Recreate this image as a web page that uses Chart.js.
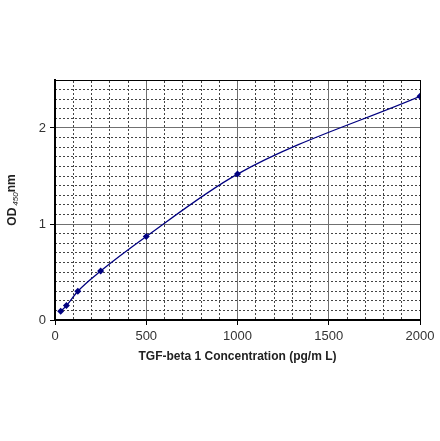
<!DOCTYPE html>
<html>
<head>
<meta charset="utf-8">
<script src="https://cdn.jsdelivr.net/npm/chart.js@4/dist/chart.umd.min.js"></script>
<style>
html,body{margin:0;padding:0;background:#fff;}
canvas{display:block;}
</style>
</head>
<body>
<canvas id="c" width="440" height="441"></canvas>
<script>
const concentrations = [31.25, 62.5, 125, 250, 500, 1000, 2000];
const odValues = [0.09, 0.15, 0.30, 0.51, 0.87, 1.52, 2.33];
const xTickLabels = [0, 500, 1000, 1500, 2000];
const yTickLabels = [0, 1, 2];
const xTitle = 'TGF-beta 1 Concentration (pg/m L)';

const FONT = '"Liberation Sans", Arial, sans-serif';

const titlePlugin = {
  id: 'titles',
  afterDraw(chart) {
    const ctx = chart.ctx;
    const a = chart.chartArea;
    ctx.save();
    ctx.fillStyle = '#222';
    ctx.font = 'bold 12px ' + FONT;
    ctx.textAlign = 'center';
    ctx.textBaseline = 'middle';
    ctx.fillText(xTitle, (a.left + a.right) / 2, 357);
    // y title
    ctx.translate(13, 200);
    ctx.rotate(-Math.PI / 2);
    ctx.textAlign = 'left';
    const p1 = 'OD', p2 = '450', p3 = 'nm';
    ctx.font = 'bold 12px ' + FONT;
    const w1 = ctx.measureText(p1).width;
    const w3 = ctx.measureText(p3).width;
    ctx.font = 'italic 8px ' + FONT;
    const w2 = ctx.measureText(p2).width;
    const total = w1 + 2 + w2 + w3;
    let x = -total / 2;
    ctx.font = 'bold 12px ' + FONT;
    ctx.fillText(p1, x, 0);
    x += w1 + 2;
    ctx.font = 'italic 8px ' + FONT;
    ctx.fillText(p2, x, 3);
    x += w2;
    ctx.font = 'bold 12px ' + FONT;
    ctx.fillText(p3, x, -1);
    ctx.restore();
  }
};

new Chart(document.getElementById('c'), {
  type: 'scatter',
  data: {
    datasets: [{
      data: concentrations.map((c, i) => ({x: c, y: odValues[i]})),
      showLine: true,
      borderColor: '#000080',
      backgroundColor: '#000080',
      borderWidth: 1.3,
      cubicInterpolationMode: 'monotone',
      pointStyle: 'rectRot',
      pointRadius: 3.5,
      pointHoverRadius: 3.5,
      pointBorderWidth: 0
    }]
  },
  options: {
    responsive: false,
    animation: false,
    devicePixelRatio: 1,
    layout: {padding: {left: 0, right: 20, top: 80, bottom: 0}},
    plugins: {legend: {display: false}, tooltip: {enabled: false}},
    scales: {
      xMinor: {
        type: 'linear', position: 'top', min: 0, max: 2000,
        ticks: {stepSize: 100, display: false},
        grid: {color: '#444', lineWidth: 1, drawTicks: false},
        border: {display: true, color: '#000', width: 1, dash: [2, 2]},
        afterFit: s => { s.height = 0; }
      },
      yMinor: {
        type: 'linear', position: 'right', min: 0, max: 2.5,
        ticks: {stepSize: 0.1, display: false},
        grid: {color: '#444', lineWidth: 1, drawTicks: false},
        border: {display: true, color: '#000', width: 1, dash: [2, 2]},
        afterFit: s => { s.width = 0; }
      },
      x: {
        type: 'linear', position: 'bottom', min: 0, max: 2000,
        afterBuildTicks: s => { s.ticks = xTickLabels.map(v => ({value: v})); },
        ticks: {color: '#333', font: {family: FONT, size: 13}, padding: 4, maxRotation: 0,
                callback: v => String(v)},
        grid: {color: '#707070', lineWidth: 1, tickLength: 5, tickColor: '#000'},
        border: {display: true, color: '#000', width: 2},
        afterFit: s => { s.height = 121; }
      },
      y: {
        type: 'linear', position: 'left', min: 0, max: 2.5,
        afterBuildTicks: s => { s.ticks = yTickLabels.map(v => ({value: v})); },
        ticks: {color: '#333', font: {family: FONT, size: 13}, padding: 4,
                callback: v => String(v)},
        grid: {color: '#707070', lineWidth: 1, tickLength: 5, tickColor: '#000'},
        border: {display: true, color: '#000', width: 2},
        afterFit: s => { s.width = 55; }
      }
    }
  },
  plugins: [titlePlugin]
});
</script>
</body>
</html>
